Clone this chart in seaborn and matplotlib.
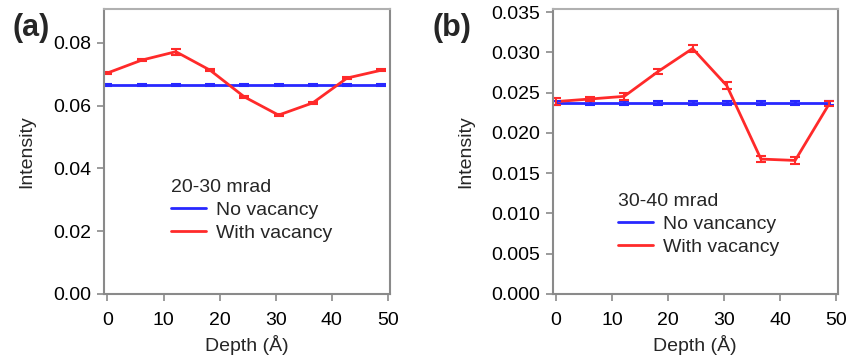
import numpy as np
import pandas as pd
import matplotlib
matplotlib.use("Agg")
import matplotlib.pyplot as plt
import seaborn as sns

# ---- data ----
depth = [0.0, 6.1, 12.2, 18.3, 24.4, 30.5, 36.6, 42.7, 48.8]

a_novac = [0.0666] * 9
a_novac_err = [0.0002] * 9
a_vac = [0.0704, 0.0745, 0.0772, 0.0713, 0.0628, 0.0570, 0.0609, 0.0688, 0.0713]
a_vac_err = [0.0004, 0.0004, 0.0009, 0.0004, 0.0004, 0.0004, 0.0004, 0.0004, 0.0004]

b_novac = [0.02372] * 9
b_novac_err = [0.0003] * 9
b_vac = [0.0239, 0.02422, 0.02455, 0.02766, 0.03049, 0.02588, 0.01676, 0.01659, 0.02364]
b_vac_err = [0.0004, 0.0003, 0.0004, 0.0003, 0.0004, 0.0004, 0.0004, 0.0004, 0.0003]

a_title = "20-30 mrad"
b_title = "30-40 mrad"
a_labels = ["No vacancy", "With vacancy"]
b_labels = ["No vancancy", "With vacancy"]
a_yticks = [0.00, 0.02, 0.04, 0.06, 0.08]
b_yticks = [0.000, 0.005, 0.010, 0.015, 0.020, 0.025, 0.030, 0.035]
xticks = [0, 10, 20, 30, 40, 50]

sns.set_style("ticks")
plt.rcParams['font.family'] = ['Liberation Sans', 'DejaVu Sans']
FS = 14
plt.rcParams['font.size'] = FS

BLUE = "#2828ff"
RED = "#ff2a2a"
SPINE = "#8a8a8a"

fig = plt.figure(figsize=(8.48, 3.58), dpi=100)
ax_a = fig.add_axes([104/848, 64/358, 286/848, 285/358])
ax_b = fig.add_axes([552.5/848, 64/358, 285.5/848, 285/358])


def panel(ax, novac, novac_err, vac, vac_err, labels, title, yticks, ylim, fmt, leg_xy):
    df = pd.DataFrame({
        "Depth": depth * 2,
        "Intensity": list(novac) + list(vac),
        "series": [labels[0]] * len(depth) + [labels[1]] * len(depth),
    })
    sns.lineplot(data=df, x="Depth", y="Intensity", hue="series",
                 palette={labels[0]: BLUE, labels[1]: RED}, linewidth=2,
                 ax=ax, legend=True)
    ax.errorbar(depth, novac, yerr=novac_err, fmt="none", ecolor=BLUE,
                elinewidth=2, capsize=3.5, capthick=1.5)
    ax.errorbar(depth, vac, yerr=vac_err, fmt="none", ecolor=RED,
                elinewidth=1.5, capsize=3.5, capthick=1.5)
    ax.set_xlim(-0.6, 50.35)
    ax.set_ylim(*ylim)
    ax.set_xticks(xticks)
    ax.set_yticks(yticks)
    ax.set_yticklabels([fmt.format(v) for v in yticks])
    ax.set_xlabel("Depth (Å)", labelpad=4)
    ax.set_ylabel("Intensity")
    for s in ax.spines.values():
        s.set_color(SPINE)
        s.set_linewidth(1.5)
    ax.spines["top"].set_color("#b0b0b0")
    ax.tick_params(axis="both", colors=SPINE, labelcolor="black", length=5,
                   width=1.2, direction="out")
    ax.tick_params(axis="y", pad=4)
    ax.tick_params(axis="x", pad=8)
    leg = ax.legend(title=title, frameon=False, loc="upper left",
                    bbox_to_anchor=leg_xy, borderpad=0, borderaxespad=0,
                    handlelength=1.8, handletextpad=0.5, labelspacing=0.28,
                    title_fontsize=FS, fontsize=FS)
    leg._legend_box.align = "left"
    for h in leg.get_lines():
        h.set_linewidth(2)


panel(ax_a, a_novac, a_novac_err, a_vac, a_vac_err, a_labels, a_title,
      a_yticks, (0, 0.0908), "{:.2f}", (0.235, 0.405))
panel(ax_b, b_novac, b_novac_err, b_vac, b_vac_err, b_labels, b_title,
      b_yticks, (0, 0.0354), "{:.3f}", (0.23, 0.355))

ax_a.yaxis.set_label_coords(-0.241, 0.5)
ax_b.yaxis.set_label_coords(-0.275, 0.5)

fig.text(12/848, 1 - 36/358, "(a)", fontsize=22, fontweight="bold")
fig.text(432/848, 1 - 36/358, "(b)", fontsize=22, fontweight="bold")

fig.savefig("out.png", dpi=100)
